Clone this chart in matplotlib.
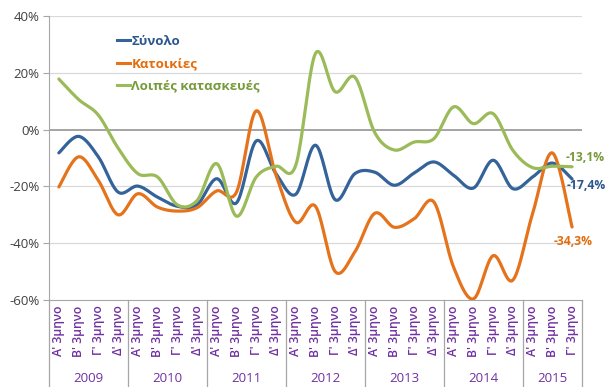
import matplotlib
matplotlib.use("Agg")
import matplotlib.pyplot as plt
from matplotlib.lines import Line2D
import numpy as np

plt.rcParams['font.family'] = ['Open Sans', 'DejaVu Sans']

#### DATA ##########

years = ['2009', '2010', '2011', '2012', '2013', '2014', '2015']
quarters = ["Α' 3μηνο", "Β' 3μηνο", "Γ' 3μηνο", "Δ' 3μηνο"]
n_last_year = 3

total = [-8.2, -2.4, -9.6, -22.0, -19.9, -23.8, -27.0, -26.5,
         -17.3, -25.8, -4.0, -15.5, -22.8, -5.5, -24.7, -15.5,
         -15.0, -19.6, -15.3, -11.4, -16.1, -20.6, -10.8, -20.8,
         -16.7, -11.8, -17.4]
housing = [-20.2, -9.6, -17.9, -30.0, -22.6, -27.3, -28.7, -27.5,
           -21.6, -22.0, 6.6, -16.0, -32.6, -27.0, -50.0, -43.0,
           -29.5, -34.4, -31.4, -25.5, -48.5, -59.6, -44.4, -53.0,
           -29.6, -8.2, -34.3]
other = [17.8, 10.6, 5.1, -6.5, -15.5, -16.7, -26.5, -25.0,
         -12.0, -30.5, -16.7, -12.9, -12.6, 26.8, 13.3, 18.4,
         -1.0, -7.2, -4.4, -3.2, 8.0, 2.1, 5.6, -7.3,
         -13.4, -12.9, -13.1]

series_names = ['Σύνολο', 'Κατοικίες', 'Λοιπές κατασκευές']
line_colors = ['#34639A', '#E5731C', '#9BBB59']
label_colors = ['#2B578C', '#E46C0A', '#779A3A']

##### FUNCTIONS ######

def smooth(y, steps=20):
    # bezier smoothing through every point, like office "smoothed line"
    y = np.asarray(y, dtype=float)
    x = np.arange(len(y), dtype=float)
    pts = np.column_stack([x, y])
    pad = np.vstack([pts[0], pts, pts[-1]])
    out = []
    t = np.linspace(0, 1, steps, endpoint=False)[:, None]
    for i in range(len(pts) - 1):
        p0, p3 = pad[i + 1], pad[i + 2]
        c1 = p0 + (pad[i + 2] - pad[i]) / 6.0
        c2 = p3 - (pad[i + 3] - pad[i + 1]) / 6.0
        seg = ((1 - t) ** 3) * p0 + 3 * ((1 - t) ** 2) * t * c1 \
            + 3 * (1 - t) * t ** 2 * c2 + t ** 3 * p3
        out.append(seg)
    out.append(pts[-1:])
    out = np.vstack(out)
    return out[:, 0], out[:, 1]

def fmt_pct(v):
    return ('%.1f%%' % v).replace('.', ',')

##### PLOT ######

cats = []
for k, yr in enumerate(years):
    qs = quarters if k < len(years) - 1 else quarters[:n_last_year]
    cats.extend(qs)
n = len(cats)

fig = plt.figure(figsize=(6.07, 3.87), dpi=100)
ax = fig.add_axes([0.0807, 0.2248, 0.878, 0.734])

grid_c = '#D9D9D9'
for v in [-40, -20, 20, 40]:
    ax.axhline(v, color=grid_c, lw=0.9, zorder=1)
ax.axhline(0, color='#8C8C8C', lw=1.1, zorder=1)

handles = []
for data, lc in zip([total, housing, other], line_colors):
    xs, ys = smooth(data)
    ax.plot(xs, ys, color=lc, lw=2.3, solid_capstyle='round', zorder=3)
    handles.append(Line2D([], [], color=lc, lw=2.2))

ax.set_xlim(-0.5, n - 0.5)
ax.set_ylim(-60, 40)
ax.set_yticks([-60, -40, -20, 0, 20, 40])
ax.set_yticklabels(['%d%%' % v for v in [-60, -40, -20, 0, 20, 40]],
                   fontsize=9.5, color='#404040')
ax.tick_params(axis='y', length=4, color='#A6A6A6', pad=3)

ax.set_xticks(np.arange(n))
ax.set_xticklabels(cats, rotation=90, fontsize=8.8, color='#7030A0',
                   va='top', fontweight='semibold')
ax.tick_params(axis='x', length=0, pad=4)

for s in ['top', 'right']:
    ax.spines[s].set_visible(False)
ax.spines['left'].set_color('#A6A6A6')
ax.spines['bottom'].set_color('#A6A6A6')

# year group separators and labels under the quarter labels
bounds = list(range(0, n, 4)) + [n]
for b in bounds:
    ax.plot([b - 0.5, b - 0.5], [0, -0.32], transform=ax.get_xaxis_transform(),
            color='#A6A6A6', lw=0.9, clip_on=False)
for k, yr in enumerate(years):
    mid = (bounds[k] + bounds[k + 1] - 1) / 2.0
    ax.text(mid, -0.277, yr, transform=ax.get_xaxis_transform(),
            ha='center', va='center', fontsize=9.5, color='#7030A0')

# end-of-series value labels
for data, tc, off in zip([total, housing, other], label_colors,
                         [(-5, -7), (-18, -15), (-6, 9)]):
    ax.annotate(fmt_pct(data[-1]), xy=(n - 1, data[-1]), xytext=off,
                textcoords='offset pixels', fontsize=8.7, fontweight='bold',
                color=tc, ha='left', va='center', annotation_clip=False)

leg = ax.legend(handles, series_names, loc='upper left',
                bbox_to_anchor=(0.105, 0.975), frameon=False,
                handlelength=1.0, handletextpad=0.1, labelspacing=0.72,
                labelcolor=label_colors, prop={'weight': 'bold', 'size': 9.5})

fig.savefig('out.png', dpi=100)
